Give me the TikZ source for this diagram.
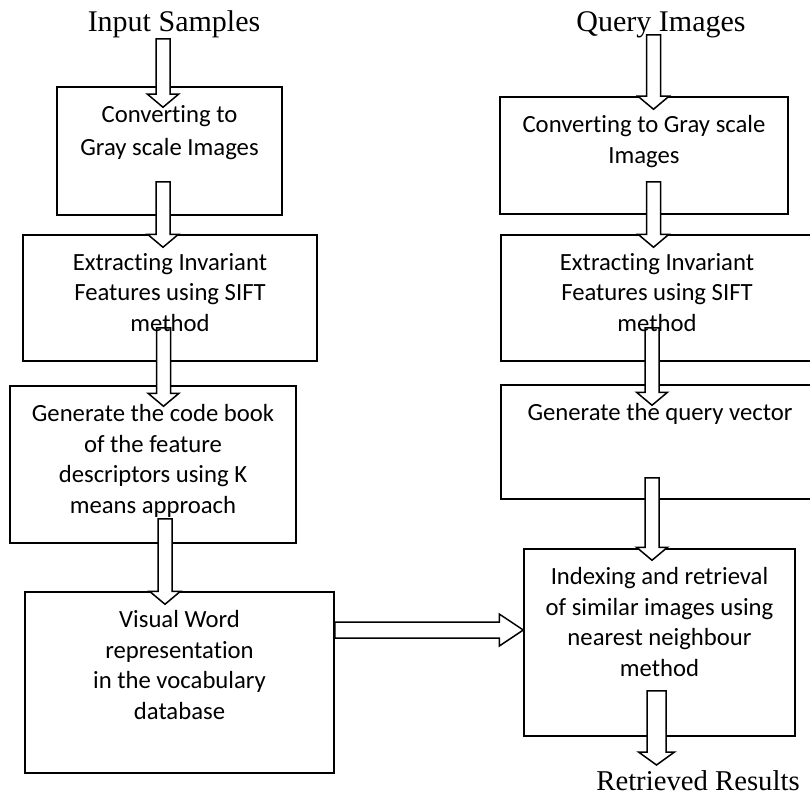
\documentclass[tikz,border=0pt]{standalone}
\usepackage{fontspec}
\setmainfont{Carlito}[Ligatures=NoCommon]
\newfontfamily\titlefont{Liberation Serif}
\usepackage{tikz}
\usetikzlibrary{positioning,calc}

\tikzset{
	stepbox/.style={draw, line width=1.5pt, inner sep=0pt},
	steptext/.style={align=center, inner sep=0pt, font=\fontsize{24.7}{30.5}\selectfont},
	title/.style={inner sep=0pt, anchor=base, font=\titlefont\fontsize{30}{36}\selectfont},
	blockarrow/.style={draw, fill=white, line width=1.5pt, line join=miter}
}
\newcommand{\varrow}[3][7pt]{%
	\draw[blockarrow] let \p1=(#2), \p2=(#3) in
		(\x1-#1,\y1) -- (\x1+#1,\y1) -- (\x1+#1,\y2+13pt) -- (\x1+#1+8.5pt,\y2+13pt) -- (\x1,\y2)
		-- (\x1-#1-8.5pt,\y2+13pt) -- (\x1-#1,\y2+13pt) -- cycle;}
\newcommand{\harrow}[2]{%
	\draw[blockarrow] let \p1=(#1), \p2=(#2) in
		(\x1,\y1+8pt) -- (\x2-24pt,\y1+8pt) -- (\x2-24pt,\y1+16pt) -- (\x2,\y1)
		-- (\x2-24pt,\y1-16pt) -- (\x2-24pt,\y1-8pt) -- (\x1,\y1-8pt) -- cycle;}

\begin{document}
\begin{tikzpicture}[x=1pt, y=-1pt]
				\clip (0,0) rectangle (810,797);
				\fill[white] (0,0) rectangle (810,797);
				\node[title] (intitle) at (174,32) {Input Samples};
				\node[title] (qtitle) at (661,32) {Query Images};
				\node[title, font=\titlefont\fontsize{28.7}{34}\selectfont] (result) at (698,790) {Retrieved Results};
				\node[stepbox, minimum width=225pt, minimum height=128pt] (L1) at (169.5,151) {};
				\node[stepbox, minimum width=294pt, minimum height=126pt] (L2) at (170,298) {};
				\node[stepbox, minimum width=286pt, minimum height=157pt] (L3) at (153,464.5) {};
				\node[stepbox, minimum width=309pt, minimum height=181pt] (L4) at (179.5,682.5) {};
				\node[stepbox, minimum width=288pt, minimum height=117pt] (R1) at (644,155.5) {};
				\node[stepbox, minimum width=312pt, minimum height=126pt] (R2) at (657,298) {};
				\node[stepbox, minimum width=318pt, minimum height=114pt] (R3) at (660,442) {};
				\node[stepbox, minimum width=271pt, minimum height=187pt] (R4) at (659.5,642.5) {};
				\varrow{[xshift=-11pt,yshift=-7pt]intitle.base}{[xshift=-6.5pt,yshift=-21pt]L1.north}
				\varrow{[xshift=-6.5pt,yshift=34pt]L1.south}{[xshift=-7pt,yshift=-13pt]L2.north}
				\varrow{[xshift=-6.5pt,yshift=34pt]L2.south}{[xshift=10.5pt,yshift=-21pt]L3.north}
				\varrow{[xshift=12pt,yshift=25pt]L3.south}{[xshift=-14.5pt,yshift=-13pt]L4.north}
				\varrow{[xshift=-7.5pt,yshift=-3pt]qtitle.base}{[xshift=9.5pt,yshift=-13pt]R1.north}
				\varrow{[xshift=9.5pt,yshift=33pt]R1.south}{[xshift=-3.5pt,yshift=-13pt]R2.north}
				\varrow{[xshift=-5pt,yshift=34pt]R2.south}{[xshift=-8pt,yshift=-21pt]R3.north}
				\varrow{[xshift=-8pt,yshift=22pt]R3.south}{[xshift=-7.5pt,yshift=-12pt]R4.north}
				\varrow[9.5pt]{[xshift=-3pt,yshift=46pt]R4.south}{[xshift=-41.5pt,yshift=25pt]result.base}
				\harrow{[yshift=52.5pt]L4.east}{[yshift=12.5pt]R4.west}
				\node[steptext, font=\fontsize{24.7}{32.6}\selectfont, below=19pt of L1.north] (t1) {Converting to\\Gray scale Images};
				\node[steptext, below=19pt of L2.north] (t2) {Extracting Invariant\\Features using SIFT\\method};
				\node[steptext, below=19pt of L3.north] (t3) {Generate the code book\\of the feature\\descriptors using K\\means approach};
				\node[steptext, below=19pt of L4.north] (t4) {Visual Word\\representation\\in the vocabulary\\database};
				\node[steptext, below=19pt of R1.north] (u1) {Converting to Gray scale\\Images};
				\node[steptext, below=19pt of R2.north] (u2) {Extracting Invariant\\Features using SIFT\\method};
				\node[steptext, below=19pt of R3.north] (u3) {Generate the query vector};
				\node[steptext, below=19pt of R4.north] (u4) {Indexing and retrieval\\of similar images using\\nearest neighbour\\method};
\end{tikzpicture}
\end{document}
